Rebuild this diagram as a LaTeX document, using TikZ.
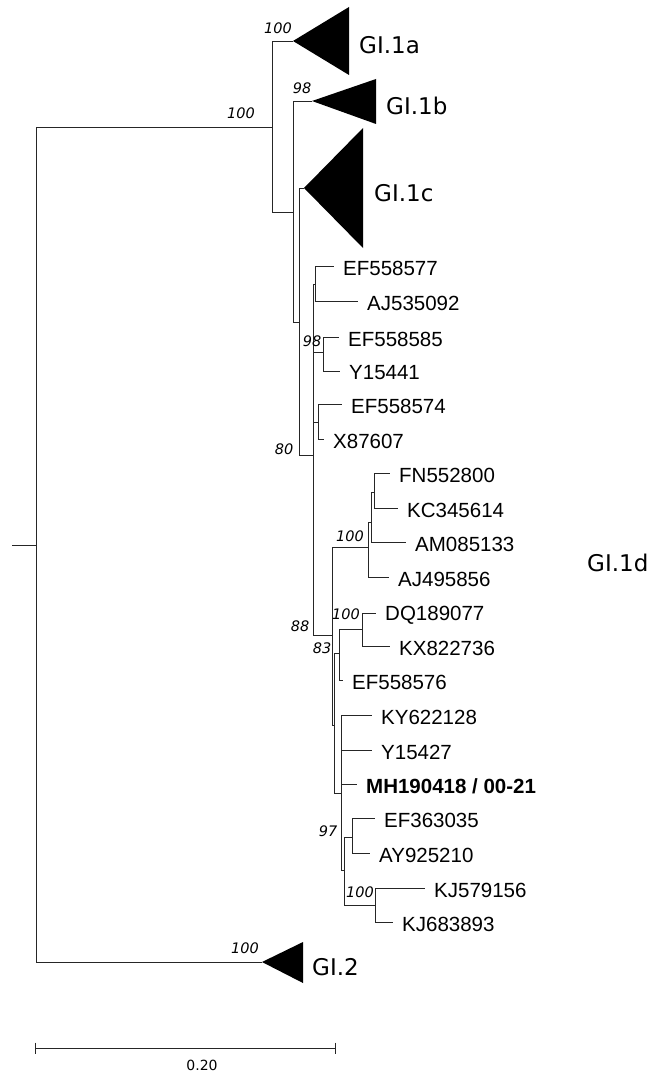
\documentclass[tikz,border=0pt]{standalone}
\usepackage{fontspec}
\setmainfont{Liberation Sans}
\newfontfamily\gifont{DejaVu Sans}

\tikzset{
  leaf/.style={anchor=west, inner sep=0pt, xshift=9pt, yshift=-2pt, font=\fontsize{20.5}{24}\selectfont},
  boot/.style={inner sep=0pt, font=\gifont\itshape\fontsize{14.5}{16}\selectfont},
  clade/.style={anchor=west, inner sep=0pt, font=\gifont\fontsize{23}{26}\selectfont},
  branch/.style={line width=0.9pt, black!85},
}

\begin{document}
\begin{tikzpicture}[x=1pt, y=-1pt]
\useasboundingbox (0,0) rectangle (651,1075);

% inner nodes of the tree
\coordinate (stub) at (12,545);
\coordinate (r) at (36,545);
\coordinate (a) at (272,127);
\coordinate (b) at (293,212);
\coordinate (c) at (299,322);
\coordinate (d) at (313,455);
\coordinate (d2) at (315,284);
\coordinate (n98) at (323,352);
\coordinate (n74) at (318,422);
\coordinate (e) at (332,635);
\coordinate (g) at (368,547);
\coordinate (h) at (371,522);
\coordinate (i) at (374,492);
\coordinate (p) at (334,725);
\coordinate (j) at (339,653);
\coordinate (n100) at (362,629);
\coordinate (k) at (341,793);
\coordinate (l) at (344,870);
\coordinate (m) at (352,837);
\coordinate (n) at (375,905);

% collapsed clades
\coordinate (c1a) at (293,41);
\coordinate (c1b) at (312,101);
\coordinate (c1c) at (304,188);
\coordinate (c2) at (262,962);

% tips
\coordinate (t1) at (334,266);
\coordinate (t2) at (358,301);
\coordinate (t3) at (339,337);
\coordinate (t4) at (340,371);
\coordinate (t5) at (342,404);
\coordinate (t6) at (324,439);
\coordinate (t7) at (390,473);
\coordinate (t8) at (398,508);
\coordinate (t9) at (406,542);
\coordinate (t10) at (389,577);
\coordinate (t11) at (376,613);
\coordinate (t12) at (390,646);
\coordinate (t13) at (343,680);
\coordinate (t14) at (372,715);
\coordinate (t15) at (372,750);
\coordinate (t16) at (357,784);
\coordinate (t17) at (375,818);
\coordinate (t18) at (370,853);
\coordinate (t19) at (425,888);
\coordinate (t20) at (393,922);

\begin{scope}[branch]
\draw (stub) -- (r);
\draw (r) |- (a);
\draw (r) |- (c2);
\draw (a) |- (c1a);
\draw (a) |- (b);
\draw (b) |- (c1b);
\draw (b) |- (c);
\draw (c) |- (c1c);
\draw (c) |- (d);
\draw (d) |- (d2);
\draw (d2) |- (t1);
\draw (d2) |- (t2);
\draw (d) |- (n98);
\draw (n98) |- (t3);
\draw (n98) |- (t4);
\draw (d) |- (n74);
\draw (n74) |- (t5);
\draw (n74) |- (t6);
\draw (d) |- (e);
\draw (e) |- (g);
\draw (g) |- (h);
\draw (g) |- (t10);
\draw (h) |- (i);
\draw (h) |- (t9);
\draw (i) |- (t7);
\draw (i) |- (t8);
\draw (e) |- (p);
\draw (p) |- (j);
\draw (j) |- (n100);
\draw (n100) |- (t11);
\draw (n100) |- (t12);
\draw (j) |- (t13);
\draw (p) |- (k);
\draw (k) |- (t14);
\draw (k) |- (t15);
\draw (k) |- (t16);
\draw (k) |- (l);
\draw (l) |- (m);
\draw (m) |- (t17);
\draw (m) |- (t18);
\draw (l) |- (n);
\draw (n) |- (t19);
\draw (n) |- (t20);
\end{scope}

\fill (c1a) -- ++(56,-34) -- ++(0,68) -- cycle;
\fill (c1b) -- ++(64,-22) -- ++(0,45) -- cycle;
\fill (c1c) -- ++(59,-60) -- ++(0,120) -- cycle;
\fill (c2) -- ++(41,-20) -- ++(0,41) -- cycle;

\node[clade] (l1a) at (359,45) {GI.1a};
\node[clade] (l1b) at (386,106) {GI.1b};
\node[clade] (l1c) at (374,193) {GI.1c};
\node[clade] (l1d) at (587,563) {GI.1d};
\node[clade] (l2) at (312,967) {GI.2};

\node[leaf] (ef77) at (t1) {EF558577};
\node[leaf] (aj92) at (t2) {AJ535092};
\node[leaf] (ef85) at (t3) {EF558585};
\node[leaf] (y41) at (t4) {Y15441};
\node[leaf] (ef74) at (t5) {EF558574};
\node[leaf] (x07) at (t6) {X87607};
\node[leaf] (fn00) at (t7) {FN552800};
\node[leaf] (kc14) at (t8) {KC345614};
\node[leaf] (am33) at (t9) {AM085133};
\node[leaf] (aj56) at (t10) {AJ495856};
\node[leaf] (dq77) at (t11) {DQ189077};
\node[leaf] (kx36) at (t12) {KX822736};
\node[leaf] (ef76) at (t13) {EF558576};
\node[leaf] (ky28) at (t14) {KY622128};
\node[leaf] (y27) at (t15) {Y15427};
\node[leaf, font=\fontsize{20.5}{24}\selectfont\bfseries] (mh18) at (t16) {MH190418 / 00-21};
\node[leaf] (ef35) at (t17) {EF363035};
\node[leaf] (ay10) at (t18) {AY925210};
\node[leaf] (kj56) at (t19) {KJ579156};
\node[leaf] (kj93) at (t20) {KJ683893};

% bootstrap values
\node[boot] (ba) at (241,113) {100};
\node[boot] (b1a) at (278,28) {100};
\node[boot] (b1b) at (302,88) {98};
\node[boot] (bd) at (284,449) {80};
\node[boot] (b98) at (312,341) {98};
\node[boot] (bg) at (350,536) {100};
\node[boot] (be) at (300,626) {88};
\node[boot] (bp) at (322,648) {83};
\node[boot] (b100) at (346,614) {100};
\node[boot] (bl) at (328,831) {97};
\node[boot] (bn) at (360,892) {100};
\node[boot] (b2) at (245,948) {100};

% scale bar
\coordinate (s0) at (35,1048);
\coordinate (s1) at (335,1048);
\begin{scope}[branch]
\draw (s0) -- (s1);
\draw (s0) ++(0,-5.5) -- ++(0,11);
\draw (s1) ++(0,-5.5) -- ++(0,11);
\end{scope}
\node[inner sep=0pt, font=\gifont\fontsize{14}{16}\selectfont] (sbar) at (202,1065) {0.20};

\end{tikzpicture}
\end{document}
